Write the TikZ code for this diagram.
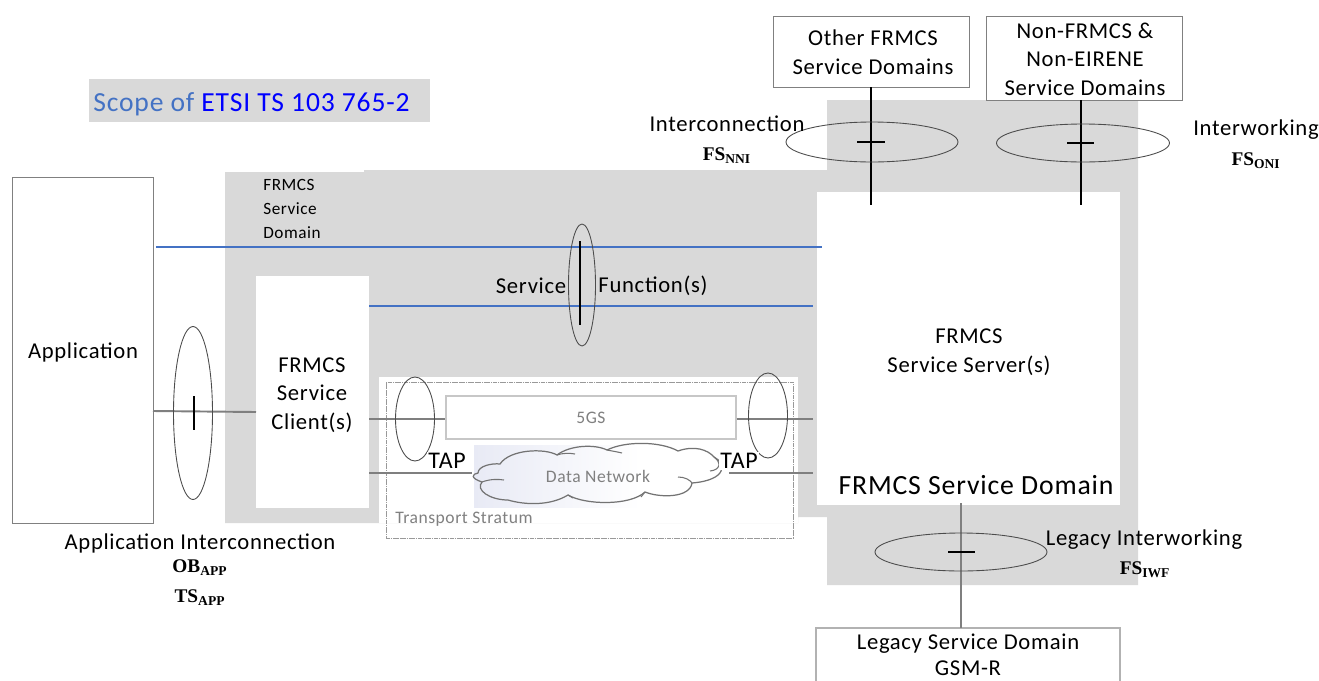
\documentclass[tikz,border=0pt]{standalone}
\usepackage{fontspec}
\setmainfont[LetterSpace=3]{Carlito}
\newfontfamily\fsfont{Liberation Serif}
\definecolor{fsGrey}{HTML}{D9D9D9}
\definecolor{fsLine}{HTML}{7F7F7F}
\definecolor{fsText}{HTML}{808080}
\definecolor{fsBlue}{HTML}{4472C4}
\definecolor{fsPure}{HTML}{0000FF}
\definecolor{fsHaze}{HTML}{E8EAF5}
\newcommand{\lblfont}{\fontsize{12.9}{16.2}\selectfont}
\usetikzlibrary{calc,shapes.geometric}
\tikzset{
  ring/.style 2 args={draw=black!70, ellipse, line width=0.5pt, inner sep=0pt, minimum width=#1, minimum height=#2},
  whitebox/.style 2 args={fill=white, inner sep=0pt, minimum width=#1, minimum height=#2},
  framebox/.style 2 args={whitebox={#1}{#2}, draw=black!50, line width=0.5pt},
  label/.style={font=\lblfont, text=black, align=center, inner sep=0pt},
  greylabel/.style={font=\normalsize, text=fsText, inner sep=0pt},
  fslabel/.style={font=\fontsize{11}{13}\selectfont\fsfont\bfseries, inner sep=1pt, fill=white},
  blackline/.style={line width=1.1pt, black},
  greyline/.style={line width=1.1pt, fsLine},
  blueline/.style={line width=0.9pt, fsBlue},
  curl/.style={draw=black!55, line width=0.6pt}
}

\begin{document}
\begin{tikzpicture}[x=0.02cm,y=-0.02cm]
  \useasboundingbox (0,0) rectangle (1319,680);
  \clip (0,0) rectangle (1319,680);
  % Grey scope area
  \fill[fsGrey] (225,172) -- (364,172) -- (364,170) -- (827,170) -- (827,100) -- (1138,100) -- (1138,585)
    -- (827,585) -- (827,517) -- (798,517) -- (798,523) -- (225,523) -- cycle;
  \fill[white] (379,377) rectangle (798,523);
  \fill[fsGrey] (89,79) rectangle (430,122);
  \node[anchor=west, inner sep=0pt, font=\fontsize{15.7}{19}\selectfont, text=fsBlue] (scope) at (93,104) {Scope of \textcolor{fsPure}{ETSI TS 103 765-2}};
  % Boxes
  \node[framebox={2.82cm}{6.92cm}] (appbox) at (82.5,350) {};
  \node[whitebox={2.26cm}{4.64cm}] (clientbox) at (312.5,392) {};
  \node[whitebox={6.06cm}{6.26cm}] (serverbox) at (968.5,348.5) {};
  \node[framebox={3.92cm}{1.42cm}] (otherbox) at (871,51.5) {};
  \node[framebox={3.92cm}{1.68cm}] (nonbox) at (1084,58) {};
  \node[label] (apptext) at (83,352) {Application};
  \node[label] (clienttext) at (312,395) {FRMCS\\Service\\Client(s)};
  \node[label] (servertext) at (969,352) {FRMCS\\Service Server(s)};
  \node[label] (othertext) at (873,52) {Other FRMCS\\Service Domains};
  \node[label] (nontext) at (1085,59) {Non-FRMCS \&\\Non-EIRENE\\Service Domains};
  \node[label, font=\fontsize{12.9}{14.8}\selectfont] (legacybox) at (968,654.5) {Legacy Service Domain\\GSM-R};
  \draw[black!30, line width=0.7pt] (816,690) -- (816,628) coordinate (legacytop) -- (1120,628) -- (1120,690);
  % Transport stratum
  \node[draw=black!40, dash pattern=on 1pt off 0.3pt, line width=0.4pt, minimum width=8.14cm, minimum height=3.12cm, inner sep=0pt] (transport) at (589.5,460) {};
  \node[greylabel, anchor=west] (stratum) at (395,519) {Transport Stratum};
  \node[draw=black!22, line width=0.7pt, fill=white, minimum width=5.8cm, minimum height=0.86cm, inner sep=0pt, font=\normalsize, text=fsText] (fivegs) at (591,417.5) {5GS};
  \shade[left color=fsHaze, right color=white] (474,445) rectangle (640,507);
  % Data network cloud
  \draw[draw=black!55, line width=0.7pt] (478,473) coordinate (cloudw)
    .. controls (478,466) and (492,463) .. (500,464)
    .. controls (510,449) and (545,448) .. (557,455) coordinate (cloudc)
    .. controls (570,445) and (595,444) .. (607,450) coordinate (cloudd)
    .. controls (625,441) and (660,441) .. (678,451)
    .. controls (695,445) and (708,450) .. (714,457) coordinate (cloudf)
    .. controls (726,463) and (728,480) .. (692,483) coordinate (cloudg)
    .. controls (690,498) and (660,498) .. (645,492) coordinate (cloudh)
    .. controls (630,506) and (585,505) .. (568,495) coordinate (cloudi)
    .. controls (550,506) and (525,505) .. (508,500)
    .. controls (490,500) and (475,490) .. (482,482) coordinate (cloudk)
    .. controls (470,478) and (472,474) .. (cloudw) -- cycle;
  \draw[curl] (cloudk) .. controls (490,479) and (498,479) .. (504,480);
  \draw[curl] (cloudc) .. controls (562,453) and (570,453) .. (575,454);
  \draw[curl] (cloudd) .. controls (612,451) and (618,452) .. (622,453);
  \draw[curl] (cloudf) .. controls (722,463) and (720,470) .. (710,471);
  \draw[curl] (678,477) .. controls (685,477) and (690,480) .. (cloudg);
  \draw[curl] (cloudh) -- (641,497);
  \draw[curl] (cloudi) -- (573,498);
  \node[greylabel] (datanet) at (598,476) {Data Network};
  % Links through the TAP
  \coordinate (uplink) at (369,419);
  \coordinate (upend) at (813,419);
  \coordinate (lowlink) at (369,473);
  \coordinate (lowend) at (813,473);
  \coordinate (cloudin) at (472,473);
  \coordinate (cloudout) at (729,473);
  \draw[greyline] (uplink) -- (fivegs.west |- uplink);
  \draw[greyline] (fivegs.east |- upend) -- (upend);
  \draw[greyline] (lowlink) -- (cloudin);
  \draw[greyline] (cloudout) -- (lowend);
  \node[ring={0.78cm}{1.68cm}] (tapleft) at (415,419) {};
  \node[ring={0.78cm}{1.70cm}] (tapright) at (768,415.5) {};
  \node[label, fill=white, inner sep=1pt, font=\fontsize{13.6}{16}\selectfont] (tapone) at (447,461) {TAP};
  \node[label, fill=white, inner sep=1pt, font=\fontsize{13.6}{16}\selectfont] (taptwo) at (739,461) {TAP};
  % Service function lines
  \coordinate (bluestart) at (156,247);
  \coordinate (blueend) at (822,247);
  \coordinate (clientout) at (369,306);
  \coordinate (serverin) at (813,306);
  \draw[blueline] (bluestart) -- (blueend);
  \draw[blueline] (clientout) -- (serverin);
  \node[ring={0.54cm}{2.44cm}] (funcring) at (582,285) {};
  \coordinate (functop) at (580,241);
  \coordinate (funcbot) at (580,325);
  \draw[blackline] (functop) -- (funcbot);
  \node[label] (service) at (531,286) {Service};
  \node[label] (function) at (653,286) {Function(s)};
  \node[font=\fontsize{9.8}{13.6}\selectfont, anchor=west, align=left, inner sep=0pt] (domaintag) at (263,209) {FRMCS\\Service\\Domain};
  % Application interconnection
  \coordinate (appout) at (153,411);
  \coordinate (clientin) at (256,412);
  \draw[greyline] (appout) -- (clientin);
  \node[ring={0.78cm}{3.46cm}] (appring) at (193,413) {};
  \draw[blackline] ($(appring.center)+(1,-17)$) -- ($(appring.center)+(1,17)$);
  \node[label] (appinter) at (200,543) {Application Interconnection};
  \node[fslabel] (obapp) at (200,568) {OB\textsubscript{APP}};
  \node[fslabel] (tsapp) at (200,598) {TS\textsubscript{APP}};
  % NNI and ONI
  \coordinate (nniend) at (871,205);
  \coordinate (oniend) at (1081,205);
  \draw[blackline] (otherbox.south) -- (nniend);
  \draw[blackline] (oniend |- nonbox.south) -- (oniend);
  \node[ring={3.44cm}{0.80cm}] (nniring) at (872,142) {};
  \node[ring={3.46cm}{0.76cm}] (oniring) at (1083,143) {};
  \draw[blackline] ($(nniring.center)+(-15,0)$) -- ($(nniring.center)+(13,0)$);
  \draw[blackline] ($(oniring.center)+(-16,0)$) -- ($(oniring.center)+(11,0)$);
  \node[label] (nnitext) at (727,124) {Interconnection};
  \node[fslabel] (nnilabel) at (727,156) {FS\textsubscript{NNI}};
  \node[label] (onitext) at (1256,130) {Interworking};
  \node[fslabel] (onilabel) at (1256,161) {FS\textsubscript{ONI}};
  % Legacy interworking
  \node[font=\fontsize{15.8}{19}\selectfont, inner sep=0pt] (domainname) at (976,485) {FRMCS Service Domain};
  \coordinate (iwftop) at (961,503);
  \draw[greyline] (iwftop) -- (iwftop |- legacytop);
  \node[ring={3.44cm}{0.76cm}] (iwfring) at (961,552) {};
  \draw[blackline] ($(iwfring.center)+(-13,0)$) -- ($(iwfring.center)+(14,0)$);
  \node[label] (iwftext) at (1144,540) {Legacy Interworking};
  \node[fslabel, fill=none] (iwflabel) at (1145,570) {FS\textsubscript{IWF}};
\end{tikzpicture}
\end{document}
